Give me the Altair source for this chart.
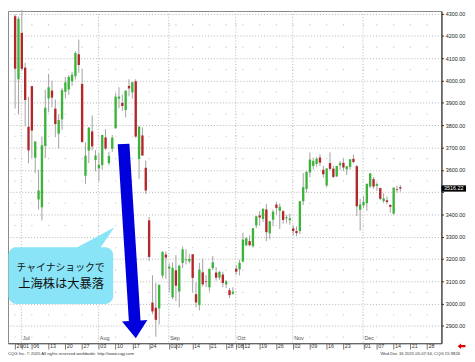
import altair as alt
import pandas as pd

# ---------------- data (Shanghai Composite, daily OHLC) ----------------
opens = [4289, 4006, 4214, 4058, 3793, 3975, 3654, 3467, 3432, 3707,
         3920, 3955, 3874, 3762, 3826, 3950, 3960, 3997, 4020, 4118,
         3985, 3573, 3686, 3772, 3644, 3606, 3621, 3745, 3630, 3694,
         3786, 3919, 3900, 3868, 3976, 3947, 3997, 3648, 3754, 3609,
         3373, 3004, 2981, 2978, 3125, 3220, 3157, 3028, 3149, 3054,
         3182, 3194, 3189, 3221, 3042, 2993, 3140, 3100, 3073, 3159,
         3139, 3116, 3130, 3086, 3060, 3044, 3156, 3153, 3188, 3262,
         3280, 3257, 3350, 3395, 3379, 3422, 3315, 3376, 3444, 3416,
         3414, 3382, 3374, 3337, 3325, 3325, 3459, 3514, 3588, 3617,
         3626, 3655, 3600, 3530, 3630, 3605, 3570, 3620, 3631, 3602,
         3613, 3649, 3616, 3421, 3441, 3450, 3525, 3558, 3528, 3518,
         3460, 3463, 3442, 3403, 3513, 3522]
highs = [4297, 4287, 4317, 4080, 3927, 3975, 3726, 3600, 3749, 3959,
         4030, 4000, 3915, 3850, 3967, 4017, 4024, 4039, 4132, 4184,
         4053, 3723, 3792, 3844, 3688, 3675, 3757, 3782, 3680, 3756,
         3943, 3970, 3937, 3955, 4006, 3994, 4006, 3795, 3790, 3641,
         3388, 3127, 3092, 3085, 3233, 3233, 3180, 3184, 3217, 3174,
         3256, 3243, 3223, 3221, 3095, 3182, 3201, 3127, 3156, 3213,
         3164, 3147, 3143, 3105, 3070, 3073, 3172, 3197, 3318, 3298,
         3306, 3339, 3394, 3415, 3427, 3447, 3370, 3421, 3457, 3449,
         3420, 3398, 3403, 3350, 3346, 3459, 3585, 3596, 3678, 3654,
         3656, 3670, 3618, 3607, 3678, 3618, 3618, 3640, 3654, 3617,
         3648, 3668, 3621, 3470, 3483, 3538, 3585, 3568, 3543, 3519,
         3495, 3480, 3446, 3521, 3529, 3531]
lows = [3875, 3848, 4043, 3795, 3629, 3653, 3585, 3421, 3373, 3653,
        3858, 3880, 3746, 3695, 3780, 3921, 3936, 3976, 4005, 4035,
        3720, 3537, 3630, 3687, 3593, 3549, 3600, 3688, 3620, 3680,
        3785, 3876, 3864, 3835, 3929, 3919, 3743, 3559, 3663, 3491,
        3191, 2952, 2851, 2906, 3113, 3110, 3053, 3019, 3011, 2983,
        3159, 3175, 3180, 3049, 2983, 2969, 3076, 3073, 3055, 3150,
        3102, 3106, 3074, 3070, 3025, 3039, 3129, 3126, 3185, 3256,
        3256, 3251, 3339, 3351, 3366, 3280, 3288, 3346, 3398, 3335,
        3358, 3360, 3353, 3306, 3303, 3310, 3442, 3497, 3566, 3601,
        3614, 3617, 3565, 3521, 3597, 3563, 3568, 3600, 3594, 3577,
        3601, 3629, 3392, 3327, 3428, 3416, 3518, 3514, 3505, 3464,
        3450, 3446, 3408, 3399, 3497, 3502]
closes = [4053, 4277, 4053, 3913, 3687, 3776, 3727, 3507, 3710, 3878,
          3970, 3924, 3805, 3823, 3957, 3992, 4017, 4026, 4124, 4070,
          3725, 3663, 3789, 3705, 3664, 3622, 3756, 3695, 3662, 3744,
          3928, 3928, 3886, 3955, 3965, 3993, 3749, 3794, 3664, 3507,
          3209, 2965, 2927, 3084, 3232, 3206, 3166, 3160, 3080, 3170,
          3243, 3198, 3200, 3115, 3005, 3152, 3086, 3097, 3156, 3185,
          3116, 3142, 3092, 3100, 3038, 3053, 3143, 3183, 3287, 3293,
          3262, 3338, 3391, 3386, 3425, 3320, 3369, 3412, 3429, 3434,
          3375, 3387, 3382, 3325, 3316, 3459, 3522, 3590, 3646, 3640,
          3650, 3632, 3580, 3606, 3604, 3568, 3617, 3630, 3610, 3616,
          3647, 3635, 3436, 3445, 3456, 3537, 3584, 3525, 3536, 3470,
          3472, 3455, 3434, 3520, 3510, 3516]

holidays = ["2015-09-03", "2015-09-04", "2015-10-01", "2015-10-02",
            "2015-10-05", "2015-10-06", "2015-10-07"]
calendar = [d.strftime("%Y-%m-%d") for d in pd.bdate_range("2015-06-29", "2015-12-28")]
calendar = [d for d in calendar if d not in holidays]
pos = {d: i for i, d in enumerate(calendar)}
trade_dates = calendar[:len(closes)]

day_tick_dates = ["2015-06-29", "2015-07-01", "2015-07-06", "2015-07-13", "2015-07-20",
                  "2015-07-27", "2015-08-03", "2015-08-10", "2015-08-17", "2015-08-24",
                  "2015-09-01", "2015-09-07", "2015-09-14", "2015-09-21", "2015-09-28",
                  "2015-10-08", "2015-10-12", "2015-10-19", "2015-10-26", "2015-11-02",
                  "2015-11-09", "2015-11-16", "2015-11-23", "2015-12-01", "2015-12-07",
                  "2015-12-14", "2015-12-21", "2015-12-28"]
month_start_dates = ["2015-07-01", "2015-08-03", "2015-09-01", "2015-10-08",
                     "2015-11-02", "2015-12-01"]
month_names = ["Jul", "Aug", "Sep", "Oct", "Nov", "Dec"]
price_ticks = list(range(2900, 4301, 100))
minor_levels = list(range(2850, 4300, 100))
last_price_text = "3516.22"
callout_lines = ["チャイナショックで", "上海株は大暴落"]
footer_left = "CQG Inc. \u00a9 2015 All rights reserved worldwide. http://www.cqg.com"
footer_right = "Wed Dec 16 2015 05:07:34, CQG 15.9826"

# ---------------- tables ----------------
candles = pd.DataFrame({"idx": list(range(len(closes))), "date": trade_dates,
                        "open": opens, "high": highs, "low": lows, "close": closes})
tick_idx = [pos[d] for d in day_tick_dates]
ticks_df = pd.DataFrame({"idx": tick_idx, "label": [d[-2:] for d in day_tick_dates]})
months_df = pd.DataFrame({"idx": [pos[d] - 0.15 for d in month_start_dates], "label": month_names})
dots_df = pd.DataFrame([{"idx": i, "v": v} for i in tick_idx for v in minor_levels])
one = pd.DataFrame({"k": [0]})

# ---------------- styling ----------------
W, H = 441, 338
GREEN, RED = "#3cb43c", "#b3262a"
CYAN = "#88e4f6"
FONT = "Liberation Sans"
JP = "Noto Sans CJK JP"
last_close = closes[-1]
xs = alt.Scale(domain=[-0.66, 125.8], nice=False, zero=False)
ys = alt.Scale(domain=[2822, 4312], nice=False, zero=False)
# one shared axis definition per channel, used by every layer so that they merge cleanly
XAX = alt.Axis(values=tick_idx, labels=False, tickSize=6, tickColor="#777",
               domainColor="#555", grid=False, title=None)
YAX = alt.Axis(orient="right", values=price_ticks, grid=True,
               labelExpr=f"abs(datum.value - {last_close}) < 30 ? '' : format(datum.value, '.2f')",
               gridDash=[1, 2], gridColor="#b4b4b4", labelFontSize=5.5,
               labelFont=FONT, labelColor="#222", labelPadding=2, tickSize=2,
               tickColor="#222", domainColor="#222", title=None)
ARROW = "M -0.06 -1 L 0.06 -1 L 0.06 0.82 L 0.13 0.82 L 0 1 L -0.13 0.82 L -0.06 0.82 Z"
POINTER = "M -1 0.6 L 1 -0.47 L 0.27 0.6 Z"
RED_ARROW = "M -1 0 L -0.1 -0.7 L -0.1 -0.3 L 1 -0.3 L 1 0.3 L -0.1 0.3 L -0.1 0.7 Z"


def X(field):
    return alt.X(field, scale=xs, axis=XAX)


def Y(field):
    return alt.Y(field, scale=ys, axis=YAX)


wicks = alt.Chart(candles).mark_rule(color="#a0a0a0", strokeWidth=1).encode(
    x=X("idx:Q"), y=Y("low:Q"), y2="high:Q")

bodies = alt.Chart(candles).mark_bar(width=2.4).encode(
    x=X("idx:Q"), y=Y("open:Q"), y2="close:Q",
    color=alt.condition("datum.close >= datum.open", alt.value(GREEN), alt.value(RED)))

dots = alt.Chart(dots_df).mark_square(size=1.2, color="#c4c4c4", opacity=1).encode(
    x=X("idx:Q"), y=Y("v:Q"))

mlines = alt.Chart(months_df).mark_rule(color="#b8b8b8", strokeDash=[1, 2], strokeWidth=1).encode(
    x=X("idx:Q"))

mlabels = alt.Chart(months_df).mark_text(align="left", baseline="middle", dx=1.5, fontSize=5.5,
                                         font=FONT, color="#555").encode(
    x=X("idx:Q"), y=alt.value(H - 5), text="label:N")

daylabels = alt.Chart(ticks_df).mark_text(align="left", baseline="middle", dx=1.3, fontSize=5.5,
                                          font=FONT, color="#333").encode(
    x=X("idx:Q"), y=alt.value(H + 3), text="label:N")

callout_box = alt.Chart(one).mark_rect(cornerRadius=8, color=CYAN).encode(
    x=alt.value(0.5), x2=alt.value(107), y=alt.value(240.3), y2=alt.value(298))
pointer = alt.Chart(one).mark_point(shape=POINTER, filled=True, size=1936, color=CYAN,
                                    opacity=1, strokeWidth=0).encode(
    x=alt.value(86), y=alt.value(230.65))
text1 = alt.Chart(one).mark_text(font=JP, fontSize=10, color="#111", align="center",
                                 baseline="middle").encode(
    x=alt.value(53.5), y=alt.value(261.5), text=alt.value(callout_lines[0]))
text2 = alt.Chart(one).mark_text(font=JP, fontSize=12.5, color="#111", align="center",
                                 baseline="middle").encode(
    x=alt.value(54), y=alt.value(277.5), text=alt.value(callout_lines[1]))

arrow = alt.Chart(one).mark_point(shape=ARROW, filled=True, size=198 ** 2, angle=356.4,
                                  color="#0000dd", opacity=1, strokeWidth=0).encode(
    x=alt.XDatum(34.2, type="quantitative", scale=xs, axis=XAX),
    y=alt.YDatum(3280, type="quantitative", scale=ys, axis=YAX))

price_box = alt.Chart(one).mark_rect(color="#000000").encode(
    x=alt.value(W), x2=alt.value(W + 25),
    y=alt.YDatum(last_close + 14, type="quantitative", scale=ys, axis=YAX),
    y2=alt.Y2Datum(last_close - 14))
price_text = alt.Chart(one).mark_text(color="white", fontSize=5.5, font=FONT, align="center",
                                      baseline="middle").encode(
    x=alt.value(W + 12.5),
    y=alt.YDatum(last_close, type="quantitative", scale=ys, axis=YAX),
    text=alt.value(last_price_text))

foot_l = alt.Chart(one).mark_text(align="left", baseline="middle", fontSize=4.3, font=FONT,
                                  color="#333").encode(
    x=alt.value(0), y=alt.value(H + 11), text=alt.value(footer_left))
foot_r = alt.Chart(one).mark_text(align="right", baseline="middle", fontSize=4.3, font=FONT,
                                  color="#333").encode(
    x=alt.value(460), y=alt.value(H + 11), text=alt.value(footer_right))
red_arrow = alt.Chart(one).mark_point(shape=RED_ARROW, filled=True, size=64, color="#e00000",
                                      opacity=1, strokeWidth=0).encode(
    x=alt.value(461.4), y=alt.value(H + 3))

chart = alt.layer(
    wicks, dots, mlines, mlabels, bodies, daylabels,
    callout_box, pointer, text1, text2, arrow,
    price_box, price_text, foot_l, foot_r, red_arrow,
).properties(
    width=W, height=H,
    autosize=alt.AutoSizeParams(type="none"),
    padding={"left": 0, "top": 0, "right": 26, "bottom": 15},
    background="white",
).configure_view(stroke="#888", strokeWidth=1)

chart.save("out.html", embed_options={"renderer": "svg", "actions": False})
